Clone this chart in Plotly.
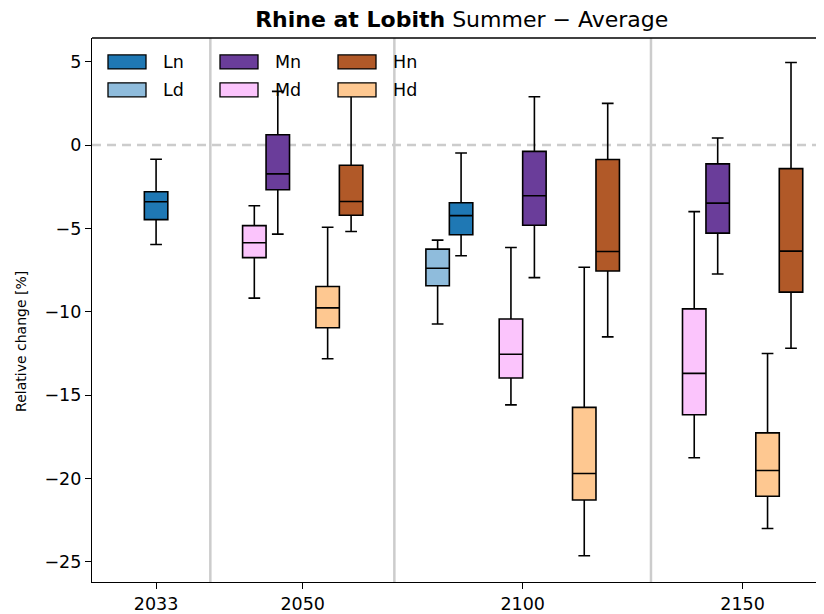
import plotly.graph_objects as go

years = ["2033", "2050", "2100", "2150"]
year_pos = [0, 1, 2.5, 4]

series = ["Ln", "Ld", "Mn", "Md", "Hn", "Hd"]
colors = {"Ln": "#1f78b4", "Ld": "#8fbcdc", "Mn": "#6a3d9a",
          "Md": "#fbc4fc", "Hn": "#b15928", "Hd": "#fec891"}

# years each series appears in
series_years = {
    "Ln": ["2033", "2100"],
    "Ld": ["2100"],
    "Mn": ["2050", "2100", "2150"],
    "Md": ["2050", "2100", "2150"],
    "Hn": ["2050", "2100", "2150"],
    "Hd": ["2050", "2100", "2150"],
}

# lower whisker, q1, median, q3, upper whisker (per year in series_years)
lower = {"Ln": [-5.96, -6.64], "Ld": [-10.73],
         "Mn": [-5.34, -7.95, -7.73], "Md": [-9.18, -15.58, -18.75],
         "Hn": [-5.18, -11.50, -12.18], "Hd": [-12.81, -24.63, -22.99]}
q1 = {"Ln": [-4.47, -5.38], "Ld": [-8.44],
      "Mn": [-2.68, -4.81, -5.28], "Md": [-6.75, -13.97, -16.17],
      "Hn": [-4.21, -7.55, -8.82], "Hd": [-10.95, -21.28, -21.06]}
median = {"Ln": [-3.40, -4.23], "Ld": [-7.39],
          "Mn": [-1.73, -3.04, -3.48], "Md": [-5.86, -12.54, -13.69],
          "Hn": [-3.38, -6.38, -6.36], "Hd": [-9.76, -19.69, -19.51]}
q3 = {"Ln": [-2.80, -3.46], "Ld": [-6.24],
      "Mn": [0.62, -0.38, -1.13], "Md": [-4.83, -10.43, -9.82],
      "Hn": [-1.21, -0.87, -1.41], "Hd": [-8.48, -15.73, -17.26]}
upper = {"Ln": [-0.85, -0.48], "Ld": [-5.70],
         "Mn": [3.22, 2.90, 0.42], "Md": [-3.64, -6.14, -3.99],
         "Hn": [3.3, 2.50, 4.95], "Hd": [-4.93, -7.33, -12.50]}

yticks = [5, 0, -5, -10, -15, -20, -25]

# layout of groups inside each year
group_off = {"2033": {"L": 0.0}, "2050": {"M": -0.25, "H": 0.25},
             "2100": {"L": -0.5, "M": 0.0, "H": 0.5},
             "2150": {"M": -0.25, "H": 0.25}}
bw = 0.16

fig = go.Figure()
for s in series:
    xs = []
    for yr in series_years[s]:
        base = year_pos[years.index(yr)] + group_off[yr][s[0]]
        if yr == "2033":
            xs.append(base)
        else:
            xs.append(base + (bw / 2 if s[1] == "n" else -bw / 2))
    fig.add_trace(go.Box(
        x=xs, q1=q1[s], median=median[s], q3=q3[s],
        lowerfence=lower[s], upperfence=upper[s],
        name=s, width=bw, fillcolor=colors[s],
        line=dict(color="black", width=1.6),
        whiskerwidth=0.5, boxpoints=False, showlegend=False,
    ))

# page pixel box of the plot area (page has an 8px body margin)
L, R, T, B = 92, 824, 38, 584
pw, ph = R - L, B - T


def px(x):
    return (x - L) / pw


def py(y):
    return (B - y) / ph


shapes = []
for sx in [0.37, 1.625, 3.375]:
    shapes.append(dict(type="line", xref="x", yref="paper", x0=sx, x1=sx, y0=0, y1=1,
                       line=dict(color="#cccccc", width=2.5), layer="below"))
shapes.append(dict(type="line", xref="paper", yref="y", x0=0, x1=1, y0=0, y1=0,
                   line=dict(color="#cccccc", width=2.5, dash="9px,6px"), layer="below"))
shapes.append(dict(type="line", xref="paper", yref="paper", x0=0, x1=1, y0=1, y1=1,
                   line=dict(color="black", width=1.3)))

# legend drawn by hand (3 columns)
annotations = []
cols = [["Ln", "Ld"], ["Mn", "Md"], ["Hn", "Hd"]]
col_x = [108, 220, 338]
row_y = [62, 90]
for cx, names in zip(col_x, cols):
    for ry, nm in zip(row_y, names):
        shapes.append(dict(type="rect", xref="paper", yref="paper",
                           x0=px(cx), x1=px(cx + 38), y0=py(ry - 7), y1=py(ry + 7),
                           fillcolor=colors[nm], line=dict(color="black", width=1.3),
                           layer="above"))
        annotations.append(dict(xref="paper", yref="paper", x=px(cx + 53), y=py(ry),
                                text=nm, showarrow=False, xanchor="left", yanchor="middle",
                                font=dict(size=17.5, color="black")))

annotations.append(dict(xref="paper", yref="paper", x=px(21), y=py(343),
                        text="Relative change [%]", textangle=-90, showarrow=False,
                        xanchor="center", yanchor="middle", font=dict(size=14)))

fig.update_layout(
    width=816, height=606,
    margin=dict(l=L - 8, r=0, t=T - 8, b=606 - (B - 8)),
    plot_bgcolor="white", paper_bgcolor="white",
    font=dict(family="DejaVu Sans", size=17.5, color="black"),
    boxmode="overlay",
    title=dict(text="<b>Rhine at Lobith</b> Summer \u2212 Average",
               x=px(461.7), xref="paper", xanchor="center",
               y=1 - 11 / 606, yanchor="middle", font=dict(size=22)),
    xaxis=dict(range=[-0.437, 4.555], tickvals=year_pos, ticktext=years,
               showgrid=False, zeroline=False, showline=True, linecolor="black",
               linewidth=1.3, ticks="outside", ticklen=6, tickwidth=1.3, tickcolor="black"),
    yaxis=dict(range=[-26.2, 6.42], tickvals=yticks,
               ticktext=[str(v).replace("-", "\u2212") for v in yticks],
               showgrid=False, zeroline=False, showline=True, linecolor="black",
               linewidth=1.3, ticks="outside", ticklen=6, tickwidth=1.3, tickcolor="black"),
    shapes=shapes, annotations=annotations,
)

fig.write_html("out.html")
